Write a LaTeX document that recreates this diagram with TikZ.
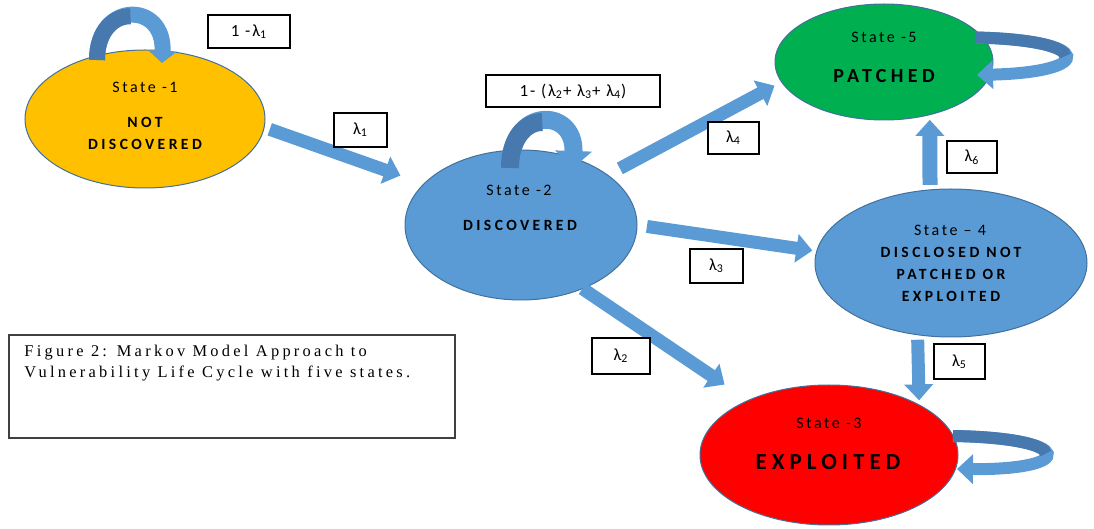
\documentclass[tikz,border=0pt]{standalone}
\usepackage{fontspec}
\setmainfont{Carlito}
\newfontfamily\stf[LetterSpace=16]{Carlito}
\newfontfamily\bdf[LetterSpace=22]{Carlito}
\newfontfamily\lbf[LetterSpace=11]{Carlito}
\newfontfamily\capf[LetterSpace=20]{Liberation Serif}
\usetikzlibrary{shapes.geometric,arrows.meta}
\definecolor{ablue}{HTML}{5B9BD5}
\definecolor{dblue}{HTML}{4779AE}
\definecolor{eborder}{HTML}{41719C}
\definecolor{syellow}{HTML}{FFC000}
\definecolor{sgreen}{HTML}{00B050}
\definecolor{sred}{HTML}{FF0000}
\tikzset{
  state/.style={ellipse, draw=eborder, line width=0.5pt, inner sep=0pt, outer sep=0pt},
  ttl/.style={font=\stf\fontsize{8}{9}\selectfont, inner sep=0pt},
  nm/.style={font=\bdf\bfseries\fontsize{7.8}{11}\selectfont, align=center, inner sep=0pt},
  lbl/.style={draw=black, line width=0.6pt, fill=white, inner sep=0pt, font=\lbf\fontsize{8.5}{10}\selectfont},
  blk/.style={draw=ablue, line width=6.5pt, -{Triangle[width=14pt,length=8pt]}},
  selfloop/.style={draw=ablue},
  darkpart/.style={draw=dblue}
}
\begin{document}
\begin{tikzpicture}[x=0.5pt,y=-0.5pt]
\useasboundingbox (0,0) rectangle (1094,529);

% states
\node[state, fill=syellow, minimum width=120pt, minimum height=69pt] (s1) at (145,119) {};
\node[state, fill=ablue, minimum width=116pt, minimum height=75pt] (s2) at (521,225) {};
\node[state, fill=sgreen, minimum width=109pt, minimum height=58pt] (s5) at (884,62) {};
\node[state, fill=ablue, minimum width=136pt, minimum height=74pt] (s4) at (951,263) {};
\node[state, fill=sred, minimum width=129pt, minimum height=70pt] (s3) at (829,455) {};

% state texts
\node[ttl] (s1t) at (145,87) {State -1};
\node[nm] (s1n) at (145,133) {NOT\\DISCOVERED};
\node[ttl] (s2t) at (519,190) {State -2};
\node[nm] (s2n) at (520,225) {DISCOVERED};
\node[ttl] (s5t) at (884,37) {State -5};
\node[nm, font=\bdf\bfseries\fontsize{10}{12}\selectfont] (s5n) at (884,76) {PATCHED};
\node[ttl] (s4t) at (950,230) {State – 4};
\node[nm] (s4n) at (951,274) {DISCLOSED NOT\\PATCHED OR\\EXPLOITED};
\node[ttl] (s3t) at (829,423) {State -3};
\node[nm, font=\bdf\bfseries\fontsize{11.5}{13}\selectfont] (s3n) at (828,462) {EXPLOITED};

% self loops
\draw[selfloop, line width=8pt, -{Triangle[width=14pt,length=6pt]}]
  (97,60) .. controls (97,1) and (165,1) .. (162,63);
\draw[darkpart, line width=8pt] (97,60) .. controls (97,30.5) and (114,16) .. (130.5,16.3);

\draw[selfloop, line width=9pt, -{Triangle[width=18pt,length=8.5pt]}]
  (510,168) .. controls (510,106.7) and (575,106.7) .. (573,168);
\draw[darkpart, line width=9pt] (510,168) .. controls (510,137.3) and (526.25,122) .. (542.25,122);

\draw[selfloop, line width=6pt, -{Triangle[width=14pt,length=8pt]}]
  (975,37.5) .. controls (1095,40) and (1095,72) .. (977,75);
\draw[darkpart, line width=6pt] (975,37.5) .. controls (1035,38.75) and (1065,47.4) .. (1065.25,56.1);

\draw[selfloop, line width=6pt, -{Triangle[width=14.5pt,length=8pt]}]
  (953,436) .. controls (1076,438) and (1076,470) .. (957,469);
\draw[darkpart, line width=6pt] (953,436) .. controls (1014.5,437) and (1045.25,445.5) .. (1045.75,453.6);

% transitions
\draw[blk, shorten <=3pt, shorten >=12.5pt] (s1.-4) -- (s2.157.5);
\draw[blk, shorten <=7pt, shorten >=4pt] (s2.30.9) -- (s5.191.9);
\draw[blk, shorten <=5pt, shorten >=2.2pt] (s2.-0.9) -- (s4.175.5);
\draw[blk, shorten <=0pt, shorten >=14.2pt] (s2.-46.9) -- (s3.146.3);
\draw[blk, line width=7.5pt, shorten <=2.5pt, shorten >=2.6pt] (s4.106.4) -- (s5.-49.2);
\draw[blk, shorten <=2.5pt, shorten >=2.3pt] (s4.245.7) -- (s3.29.4);

% labels
\node[lbl, minimum width=41pt, minimum height=16.5pt] (l11) at (249,31.5) {1 -λ\textsubscript{1}};
\node[lbl, minimum width=26.5pt, minimum height=17pt] (l1) at (360.5,130) {λ\textsubscript{1}};
\node[lbl, minimum width=87pt, minimum height=16pt] (l234) at (573,91) {1- (λ\textsubscript{2}+ λ\textsubscript{3}+ λ\textsubscript{4})};
\node[lbl, minimum width=25.5pt, minimum height=16pt] (l4) at (733.5,138) {λ\textsubscript{4}};
\node[lbl, minimum width=26.5pt, minimum height=17pt] (l3) at (716.5,266) {λ\textsubscript{3}};
\node[lbl, minimum width=29pt, minimum height=18pt] (l2) at (621,356) {λ\textsubscript{2}};
\node[lbl, minimum width=25pt, minimum height=16pt] (l6) at (972,157) {λ\textsubscript{6}};
\node[lbl, minimum width=25.5pt, minimum height=17.5pt] (l5) at (959.5,361.5) {λ\textsubscript{5}};

% caption
\node[draw=black!75, line width=0.8pt, minimum width=223pt, minimum height=51.5pt, inner sep=0pt] (cap) at (232,386.5) {};
\node[anchor=north west, align=left, inner sep=0pt, font=\capf\fontsize{8.2}{10.5}\selectfont] (capt) at (24,345)
  {Figure 2: Markov Model Approach to\\Vulnerability Life Cycle with five states.};
\end{tikzpicture}
\end{document}
